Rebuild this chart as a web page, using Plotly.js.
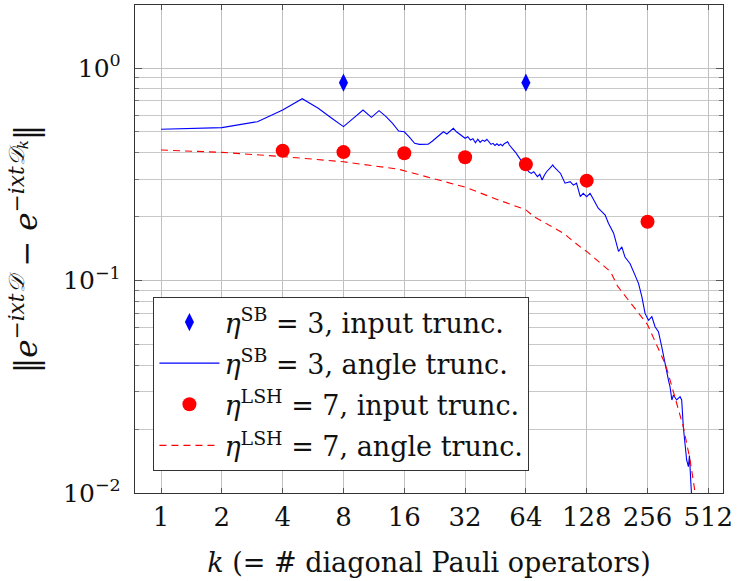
<!DOCTYPE html>
<html>
<head>
<meta charset="utf-8">
<script src="https://cdn.plot.ly/plotly-3.0.1.min.js"></script>
<style>html,body{margin:0;padding:0;background:#fff}#plot{width:739px;height:581px}</style>
</head>
<body>
<div id="plot"></div>
<script>
// --- data ---
const diamondK = [8, 64];
const diamondVal = [0.853, 0.853];

const sbAngleK = [1,2,3,4,5,6,7,8,9,10,11,12,13,14,15,16,17,18,19,20,21,22,23,24,25,26,27,28,29,30,31,32,
  33,34,35,36,37,38,39,40,41,42,43,44,45,46,47,48,49,50,51,52,53,54,55,56,57,58,59,60,61,62,63,64,
  66,68,70,73,75,77,79,81,84,87,88,91,93,95,100,106,110,114,119,123,128,133,136,141,146,152,158,164,174,
  184,191,198,210,222,231,240,249,259,269,279,290,301,313,325,331,338,344,357,371,378,385,400,408,413,419,424,428];
const sbAngleVal = [0.515,0.524,0.559,0.634,0.717,0.646,0.580,0.530,0.583,0.634,0.586,0.630,0.590,0.549,0.505,0.501,
  0.472,0.442,0.437,0.437,0.438,0.452,0.468,0.484,0.501,0.489,0.505,0.520,0.501,0.488,0.475,0.467,
  0.475,0.458,0.465,0.445,0.462,0.447,0.458,0.452,0.462,0.446,0.437,0.442,0.432,0.440,0.432,0.438,0.430,0.440,0.446,0.450,
  0.434,0.426,0.417,0.410,0.400,0.390,0.380,0.369,0.362,0.356,0.350,0.343,
  0.325,0.319,0.325,0.308,0.316,0.297,0.313,0.325,0.337,0.350,0.343,0.331,0.325,0.319,0.287,0.292,0.281,0.287,0.248,0.257,0.248,0.257,0.248,
  0.231,0.219,0.211,0.203,0.186,0.167,0.137,0.144,0.129,0.120,0.106,0.097,0.084,0.070,0.065,0.0676,0.0606,0.0574,0.0488,
  0.040,0.034,0.0316,0.0274,0.0289,0.0274,0.0284,0.0274,0.0205,0.0143,0.0133,0.0150,0.0115,0.0098,0.0080];

const lshInputK = [4, 8, 16, 32, 64, 128, 256];
const lshInputVal = [0.408, 0.402, 0.397, 0.380, 0.352, 0.295, 0.189];

const lshAngleK = [1,2,4,8,15,26,32,47,64,70,98,120,128,168,182,256,290,315,331,385,416,436,450];
const lshAngleVal = [0.411,0.401,0.383,0.362,0.334,0.291,0.275,0.239,0.215,0.200,0.167,0.143,0.137,0.110,0.094,0.062,0.048,0.040,0.034,0.0205,0.0143,0.0108,0.0088];

const xTickVals = [1,2,4,8,16,32,64,128,256,512];
const xTickText = ['1','2','4','8','16','32','64','128','256','512'];
const yTickVals = [0.01, 0.1, 1];
const yTickText = ['10<sup>−2</sup>','10<sup>−1</sup>','10<sup>0</sup>'];

const legendNames = [
  '<i>η</i><sup>SB</sup> = 3, input trunc.',
  '<i>η</i><sup>SB</sup> = 3, angle trunc.',
  '<i>η</i><sup>LSH</sup> = 7, input trunc.',
  '<i>η</i><sup>LSH</sup> = 7, angle trunc.'
];

const FONT = 'DejaVu Serif';

const traces = [
  {x: diamondK, y: diamondVal, mode: 'markers', type: 'scatter', name: legendNames[0], legendgroup: 'a',
   marker: {symbol: 'diamond-tall', size: 13, color: '#0000ff'}},
  {x: sbAngleK, y: sbAngleVal, mode: 'lines', type: 'scatter', name: legendNames[1], legendgroup: 'b',
   line: {color: '#0000ff', width: 1.1}},
  {x: lshInputK, y: lshInputVal, mode: 'markers', type: 'scatter', name: legendNames[2], legendgroup: 'c',
   marker: {symbol: 'circle', size: 14, color: '#ff0000'}},
  {x: lshAngleK, y: lshAngleVal, mode: 'lines', type: 'scatter', name: legendNames[3], legendgroup: 'd',
   line: {color: '#ff0000', width: 1.1, dash: '7px,5px'}}
];

const layout = {
  width: 739, height: 581,
  margin: {l: 135, r: 16, t: 5, b: 88},
  paper_bgcolor: '#fff', plot_bgcolor: '#fff',
  font: {family: FONT, size: 24, color: '#111'},
  showlegend: true,
  legend: {
    x: 0.031, y: 0.402, xanchor: 'left', yanchor: 'top',
    bgcolor: '#fff', bordercolor: '#333', borderwidth: 1.2,
    font: {family: FONT, size: 27, color: '#111'},
    itemwidth: 60, tracegroupgap: 3
  },
  xaxis: {
    type: 'log', range: [-0.129, 2.782],
    tickvals: xTickVals, ticktext: xTickText,
    ticks: 'inside', ticklen: 5, tickcolor: '#555', tickwidth: 1,
    showgrid: true, gridcolor: '#c0c0c0', gridwidth: 1,
    showline: true, linecolor: '#333', linewidth: 1.3, mirror: 'ticks',
    zeroline: false,
    tickfont: {family: FONT, size: 26},
    title: {text: '<i>k</i> (= # diagonal Pauli operators)', font: {family: FONT, size: 27}, standoff: 22}
  },
  yaxis: {
    type: 'log', range: [-2, 0.2965],
    tickvals: yTickVals, ticktext: yTickText,
    ticks: 'inside', ticklen: 7, tickcolor: '#555', tickwidth: 1,
    ticklabelstandoff: 8,
    showgrid: true, gridcolor: '#c0c0c0', gridwidth: 1,
    minor: {dtick: 'D1', showgrid: true, gridcolor: '#c8c8c8', gridwidth: 1, ticks: 'inside', ticklen: 4, tickcolor: '#777'},
    showline: true, linecolor: '#333', linewidth: 1.3, mirror: 'ticks',
    zeroline: false,
    tickfont: {family: FONT, size: 25},
    title: {text: '‖<i>e</i><sup>−<i>ixt𝒟</i></sup> − <i>e</i><sup>−<i>ixt𝒟<sub>k</sub></i></sup>‖', font: {family: FONT, size: 31}, standoff: 16}
  }
};

Plotly.newPlot('plot', traces, layout, {displayModeBar: false, staticPlot: true});
</script>
</body>
</html>
